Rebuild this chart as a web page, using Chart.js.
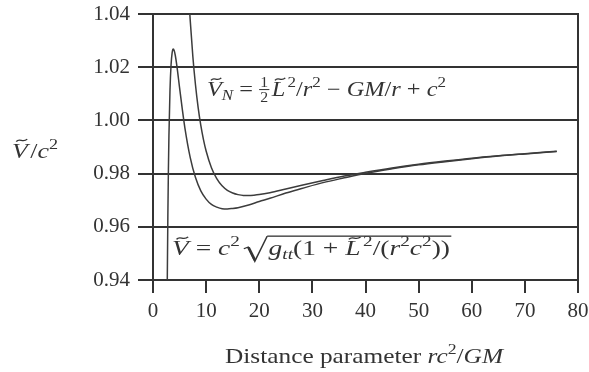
<!DOCTYPE html>
<html>
<head>
<meta charset="utf-8">
<script src="https://cdn.jsdelivr.net/npm/chart.js@4.4.0/dist/chart.umd.min.js"></script>
<style>
html,body{margin:0;padding:0;background:#fff;}
#wrap{width:589px;height:372px;position:relative;}
</style>
</head>
<body>
<div id="wrap"><canvas id="c" width="589" height="372"></canvas></div>
<script>
// Distance parameter values (x) and potentials (y)
const rRel = [2.65, 2.7, 2.8, 2.9, 3.0, 3.2, 3.4, 3.6, 3.8, 4.0, 4.2, 4.5, 5, 5.5, 6, 7, 8, 9, 10, 11, 12, 13, 14, 15, 16, 18, 20, 22, 25, 28, 32, 36, 40, 45, 50, 55, 60, 65, 70, 76];
const vRel = [0.9293, 0.9427, 0.9648, 0.9816, 0.9944, 1.0115, 1.0209, 1.0254, 1.0268, 1.0262, 1.0244, 1.0204, 1.0123, 1.0044, 0.9972, 0.9861, 0.9785, 0.9735, 0.9704, 0.9684, 0.9674, 0.9668, 0.9667, 0.9669, 0.9672, 0.9682, 0.9695, 0.9707, 0.9727, 0.9744, 0.9766, 0.9784, 0.9801, 0.9818, 0.9833, 0.9845, 0.9856, 0.9866, 0.9874, 0.9883];
const rNewt = [6.8, 7, 7.5, 8, 8.5, 9, 9.5, 10, 11, 12, 13, 14, 15, 16, 17, 18, 19, 20, 22, 25, 28, 32, 36, 40, 45, 50, 55, 60, 65, 70, 76];
const vNewt = [1.0443, 1.0378, 1.0240, 1.0133, 1.0048, 0.9981, 0.9928, 0.9885, 0.9822, 0.9781, 0.9754, 0.9737, 0.9727, 0.9721, 0.9718, 0.9718, 0.9719, 0.9721, 0.9728, 0.9742, 0.9756, 0.9774, 0.9791, 0.9805, 0.9821, 0.9835, 0.9847, 0.9858, 0.9867, 0.9875, 0.9884];
const xTicks = [0, 10, 20, 30, 40, 50, 60, 70, 80];
const yTicks = [0.94, 0.96, 0.98, 1.00, 1.02, 1.04];

const FONT = '"Liberation Serif", "DejaVu Serif", serif';
const INK = '#333';

function toPts(xs, ys){ return xs.map((x,i)=>({x:x, y:ys[i]})); }

function tildePath(ctx, x0, y0, w){
  ctx.save();
  ctx.lineWidth = 1.3;
  ctx.strokeStyle = INK;
  ctx.beginPath();
  ctx.moveTo(x0, y0 + 1.2);
  ctx.bezierCurveTo(x0 + w*0.3, y0 - 3.0, x0 + w*0.6, y0 + 3.0, x0 + w, y0 - 1.3);
  ctx.stroke();
  ctx.restore();
}

// rich-text drawing for annotations
function drawRich(ctx, x, y, size, parts, draw){
  let cx = x;
  let sqrtStart = null;
  ctx.textBaseline = 'alphabetic';
  ctx.textAlign = 'left';
  for (const p of parts){
    if (p.frac){
      const fs = size*0.65;
      ctx.font = fs + 'px ' + FONT;
      const w0 = ctx.measureText(p.frac[0]).width, w1 = ctx.measureText(p.frac[1]).width;
      const w = Math.max(w0, w1) + 2;
      if (draw){
        ctx.fillText(p.frac[0], cx + (w-w0)/2, y - size*0.42);
        ctx.fillText(p.frac[1], cx + (w-w1)/2, y + size*0.30);
        ctx.fillRect(cx, y - size*0.33, w, 1);
      }
      cx += w + 2;
      continue;
    }
    if (p.sqrt){
      const h = size*0.9;
      sqrtStart = {x: cx + size*0.85, y: y - h};
      if (draw){
        ctx.save();
        ctx.lineWidth = 1.2;
        ctx.strokeStyle = INK;
        ctx.beginPath();
        ctx.moveTo(cx, y - size*0.3);
        ctx.lineTo(cx + size*0.16, y - size*0.38);
        ctx.lineTo(cx + size*0.40, y + size*0.30);
        ctx.lineTo(cx + size*0.85, y - h);
        ctx.stroke();
        ctx.lineWidth = 2.2;
        ctx.beginPath();
        ctx.moveTo(cx + size*0.17, y - size*0.36);
        ctx.lineTo(cx + size*0.40, y + size*0.24);
        ctx.stroke();
        ctx.restore();
      }
      cx += size*0.9;
      continue;
    }
    if (p.endSqrt){
      if (draw && sqrtStart){
        ctx.fillRect(sqrtStart.x, sqrtStart.y - 0.6, cx - sqrtStart.x + 1, 1.3);
      }
      continue;
    }
    const s = size*(p.s||1);
    ctx.font = (p.it ? 'italic ' : '') + s + 'px ' + FONT;
    const w = ctx.measureText(p.t).width;
    if (draw){
      ctx.fillText(p.t, cx, y + (p.dy||0));
      if (p.tilde){
        const tw = s*0.42;
        tildePath(ctx, cx + w*0.5 + s*0.07 - tw/2 + (p.tx||0), y + (p.dy||0) - s*0.8, tw);
      }
    }
    cx += w + (p.gap||0);
  }
  return cx - x;
}

function fitRich(ctx, x, y, size, parts, width){
  const w = drawRich(ctx, 0, 0, size, parts, false);
  const k = width / w;
  ctx.save();
  ctx.translate(x, y);
  ctx.scale(k, 1);
  drawRich(ctx, 0, 0, size, parts, true);
  ctx.restore();
}

const decor = {
  id: 'decor',
  afterDraw(chart){
    const ctx = chart.ctx;
    const a = chart.chartArea;
    ctx.save();
    ctx.strokeStyle = INK;
    ctx.lineWidth = 2;
    ctx.beginPath();
    ctx.moveTo(a.right, a.top - 1);
    ctx.lineTo(a.right, a.bottom + 1);
    ctx.stroke();
    ctx.fillStyle = INK;
    // y-axis title
    fitRich(ctx, 12, 158, 22, [
      {t:'V', it:true, tilde:true, gap:2}, {t:'/'}, {t:'c', it:true}, {t:'2', s:0.7, dy:-9}
    ], 46);
    // x-axis title
    fitRich(ctx, 225, 363, 22, [
      {t:'Distance parameter '}, {t:'rc', it:true}, {t:'2', s:0.7, dy:-9}, {t:'/'}, {t:'GM', it:true}
    ], 278);
    // Newtonian annotation
    fitRich(ctx, 207, 96, 21, [
      {t:'V', it:true, tilde:true}, {t:'N', it:true, s:0.7, dy:4}, {t:' = '},
      {frac:['1','2']}, {t:'L', it:true, tilde:true, gap:2}, {t:'2', s:0.7, dy:-9}, {t:'/'},
      {t:'r', it:true}, {t:'2', s:0.7, dy:-9}, {t:' \u2212 '}, {t:'GM', it:true}, {t:'/'},
      {t:'r', it:true}, {t:' + '}, {t:'c', it:true}, {t:'2', s:0.7, dy:-9}
    ], 239);
    // relativistic annotation
    fitRich(ctx, 172, 255, 21, [
      {t:'V', it:true, tilde:true}, {t:' = '}, {t:'c', it:true}, {t:'2', s:0.7, dy:-9, gap:3},
      {sqrt:true},
      {t:'g', it:true}, {t:'tt', it:true, s:0.7, dy:4}, {t:'(1 + '}, {t:'L', it:true, tilde:true, gap:2},
      {t:'2', s:0.7, dy:-9}, {t:'/('}, {t:'r', it:true}, {t:'2', s:0.7, dy:-9}, {t:'c', it:true},
      {t:'2', s:0.7, dy:-9}, {t:'))'}, {endSqrt:true}
    ], 278);
    ctx.restore();
  }
};

const lineStyle = {
  borderColor: '#3c3c3c',
  borderWidth: 1.5,
  pointRadius: 0,
  fill: false,
  cubicInterpolationMode: 'monotone'
};

new Chart(document.getElementById('c'), {
  type: 'line',
  data: {
    datasets: [
      Object.assign({label: 'Relativistic', data: toPts(rRel, vRel)}, lineStyle),
      Object.assign({label: 'Newtonian', data: toPts(rNewt, vNewt)}, lineStyle)
    ]
  },
  options: {
    responsive: false,
    animation: false,
    devicePixelRatio: 1,
    layout: {padding: {top: 14, right: 11, left: 0, bottom: 0}},
    plugins: {legend: {display: false}, tooltip: {enabled: false}},
    scales: {
      x: {
        type: 'linear', min: 0, max: 80,
        afterBuildTicks(s){ s.ticks = xTicks.map(v=>({value:v})); },
        afterFit(s){ s.height = 92; s.paddingLeft = 0; s.paddingRight = 0; },
        ticks: {color: INK, font: {family: FONT, size: 21}, padding: 6, maxRotation: 0,
          callback: v => String(v)},
        grid: {drawOnChartArea: false, drawTicks: true, tickLength: 13, color: INK, lineWidth: 2},
        border: {display: true, color: INK, width: 2}
      },
      y: {
        min: 0.94, max: 1.04,
        afterBuildTicks(s){ s.ticks = yTicks.map(v=>({value:v})); },
        afterFit(s){ s.width = 153; s.paddingTop = 0; s.paddingBottom = 0; },
        ticks: {color: INK, font: {family: FONT, size: 21}, padding: 8,
          callback: v => Number(v).toFixed(2)},
        grid: {drawOnChartArea: true, drawTicks: true, tickLength: 15, color: INK, lineWidth: 2},
        border: {display: true, color: INK, width: 2}
      }
    }
  },
  plugins: [decor]
});
</script>
</body>
</html>
